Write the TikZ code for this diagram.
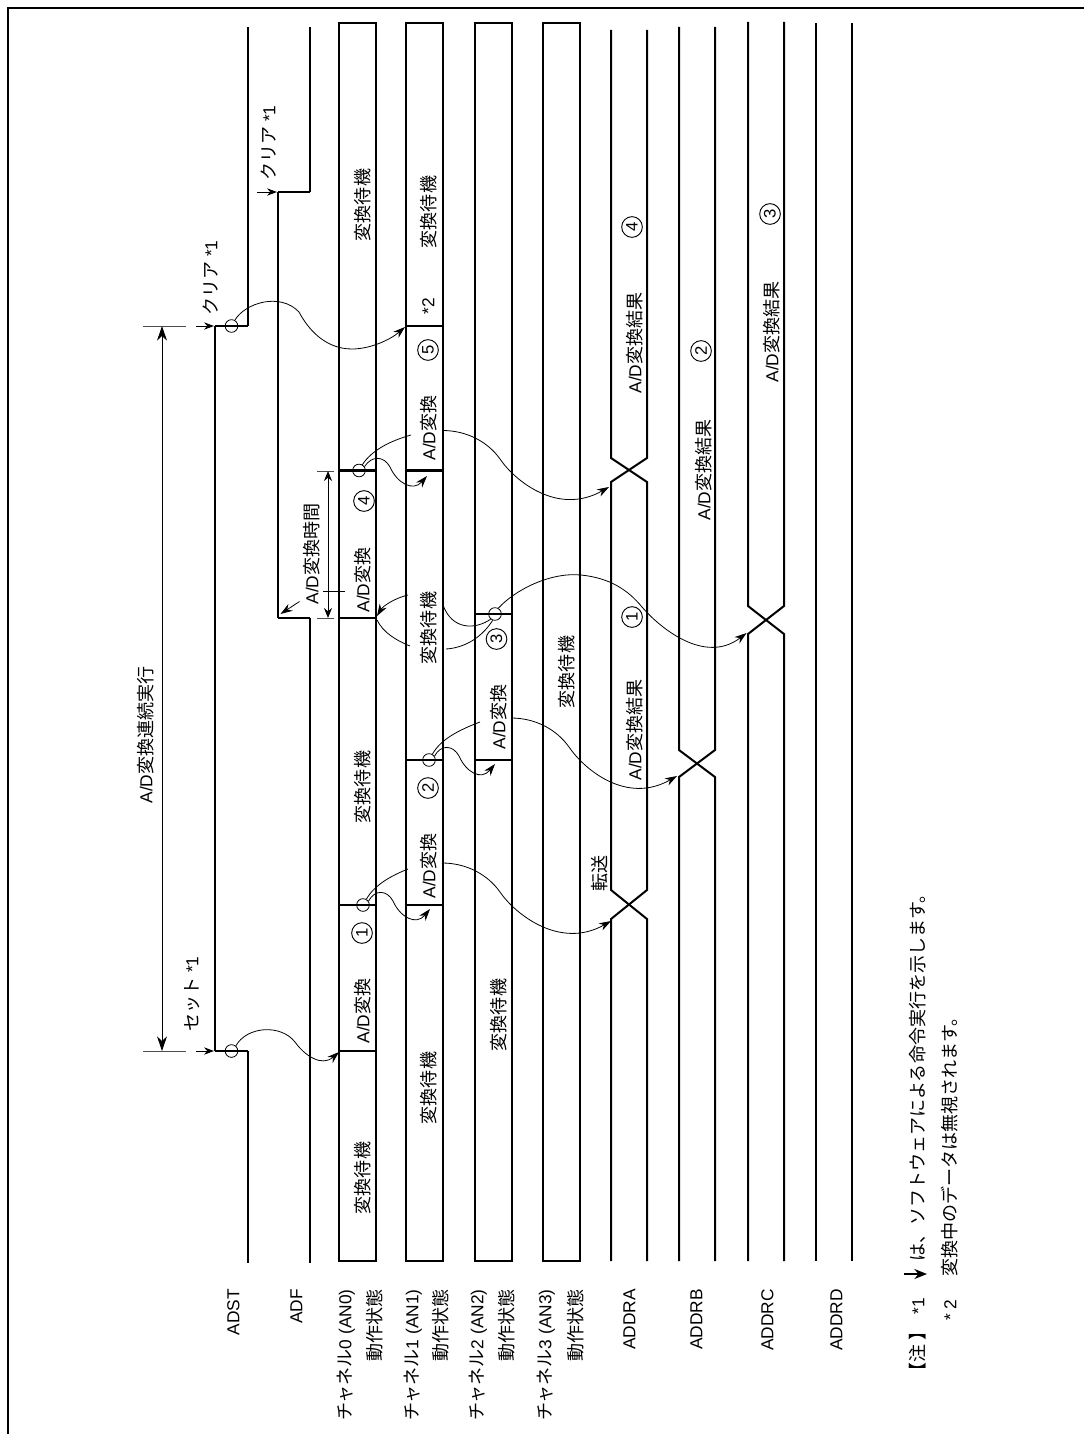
\documentclass[tikz,border=0pt]{standalone}
\usepackage{fontspec}
\setmainfont{Liberation Sans}
\newfontfamily\jpfont[Scale=1.04]{Noto Sans CJK JP}
\newcommand{\jp}[1]{{\jpfont #1}}
\usetikzlibrary{arrows.meta}

\begin{document}
\begin{tikzpicture}[
    x=0.75pt,
    y=-0.75pt,
    every node/.style={font=\fontsize{13}{15}\selectfont},
    txt/.style={rotate=90, inner sep=0pt, text height=10pt, text depth=2pt},
    rowname/.style={txt, anchor=east},
    notetext/.style={txt, anchor=west},
    num/.style={rotate=90, circle, draw, line width=0.7pt, inner sep=0pt,
        minimum size=15.5pt, font=\fontsize{12.5}{14}\selectfont},
    ring/.style={circle, draw, line width=0.6pt, inner sep=0pt, minimum size=9.5pt},
    frame/.style={line width=1.6pt},
    wave/.style={line width=1.5pt},
    edge/.style={line width=1.8pt},
    tick/.style={line width=0.7pt, black!70},
    longdim/.style={line width=0.7pt, {Stealth[length=11pt,width=7.5pt]}-{Stealth[length=11pt,width=7.5pt]}},
    shortdim/.style={line width=0.7pt, {Stealth[length=7.5pt,width=6pt]}-{Stealth[length=7.5pt,width=6pt]}},
    curve/.style={line width=0.6pt},
    arrow/.style={curve, -{Stealth[length=9pt,width=6pt]}},
    small arrow/.style={line width=0.7pt, -{Stealth[length=7.5pt,width=5.5pt]}},
    key arrow/.style={line width=1pt, -{Stealth[length=9.5pt,width=7.5pt]}}
]
\useasboundingbox (0,0) rectangle (1084,1434);

% Frame
\draw [frame] (8,1434) -- (8,8) -- (1084,8);

% Waveforms
\draw [wave] (248,27) -- (248,326) (215,1051) -- (215,326) (248,1051) -- (248,1263);
\draw [edge] (248,326) -- (215,326) (215,1051) -- (248,1051);
\draw [wave] (310,27) -- (310,192) (278,192) -- (278,618) (310,618) -- (310,1263);
\draw [edge] (310,192) -- (278,192) (278,618) -- (310,618);

\foreach \xa/\xb in {339/376, 406/443, 474.5/511.5, 543/579.5}
    \draw [wave] (\xa,23) rectangle (\xb,1261);

\foreach \y in {1051, 905, 618, 470.5}
    \draw [edge] (339,\y) -- (376,\y);
\foreach \y in {905, 760, 470.5, 326}
    \draw [edge] (406,\y) -- (443,\y);
\foreach \y in {760, 614}
    \draw [edge] (474.5,\y) -- (511.5,\y);

\draw [wave] (611,30) -- (611,458) -- (647,482) -- (647,890) -- (611,919) -- (611,1261);
\draw [wave] (647,30) -- (647,458) -- (611,482) -- (611,890) -- (647,919) -- (647,1261);
\draw [wave] (679,27) -- (679,750) -- (715,777) -- (715,1261);
\draw [wave] (715,27) -- (715,750) -- (679,777) -- (679,1261);
\draw [wave] (748,22) -- (748,606) -- (784,634) -- (784,1261);
\draw [wave] (784,22) -- (784,606) -- (748,634) -- (748,1261);
\draw [wave] (816,23) -- (816,1261);
\draw [wave] (852,23) -- (852,1261);

% Row names
\node (adst) [rowname] at (234,1289) {ADST};
\node (adf) [rowname] at (297,1289) {ADF};
\node (ch0) [rowname] at (346,1289) {\jp{チャネル}0 (AN0)};
\node (st0) [rowname] at (376,1289) {\jp{動作状態}};
\node (ch1) [rowname] at (413,1289) {\jp{チャネル}1 (AN1)};
\node (st1) [rowname] at (442,1289) {\jp{動作状態}};
\node (ch2) [rowname] at (478,1289) {\jp{チャネル}2 (AN2)};
\node (st2) [rowname] at (508,1289) {\jp{動作状態}};
\node (ch3) [rowname] at (546,1289) {\jp{チャネル}3 (AN3)};
\node (st3) [rowname] at (577,1289) {\jp{動作状態}};
\node (addra) [rowname] at (630,1289) {ADDRA};
\node (addrb) [rowname] at (697,1289) {ADDRB};
\node (addrc) [rowname] at (768,1289) {ADDRC};
\node (addrd) [rowname] at (837,1289) {ADDRD};

% Labels
\node (run) [txt] at (147,735) {A/D\jp{変換連続実行}};
\node (set) [txt] at (193,994) {\jp{セット} *1};
\node (clear0) [txt] at (212,278) {\jp{クリア} *1};
\node (clear1) [txt] at (270,143) {\jp{クリア} *1};
\node (time) [txt] at (313,554) {A/D\jp{変換時間}};

\node (w00) [txt] at (364,1178) {\jp{変換待機}};
\node (c00) [txt] at (364,1011) {A/D\jp{変換}};
\node (w01) [txt] at (364,787) {\jp{変換待機}};
\node (c01) [txt] at (364,580) {A/D\jp{変換}};
\node (w02) [txt] at (364,205) {\jp{変換待機}};
\node (n1) [num] at (362,933) {1};
\node (n4) [num] at (364,501) {4};

\node (w10) [txt] at (430,1088) {\jp{変換待機}};
\node (c10) [txt] at (430,866) {A/D\jp{変換}};
\node (w11) [txt] at (430,628) {\jp{変換待機}};
\node (c11) [txt] at (430,428) {A/D\jp{変換}};
\node (star2) [txt] at (429,306) {*2};
\node (w12) [txt] at (430,212) {\jp{変換待機}};
\node (n2) [num] at (428,788) {2};
\node (n5) [num] at (428,350) {5};

\node (w20) [txt] at (500,1015) {\jp{変換待機}};
\node (c20) [txt] at (500,717) {A/D\jp{変換}};
\node (n3) [num] at (496.5,639) {3};

\node (w30) [txt] at (568,672) {\jp{変換待機}};

\node (move) [txt] at (601,873) {\jp{転送}};
\node (ra0) [txt] at (636,730) {A/D\jp{変換結果}};
\node (ra1) [txt] at (636,343) {A/D\jp{変換結果}};
\node (na1) [num] at (632,617) {1};
\node (na4) [num] at (632,227) {4};
\node (rb0) [txt] at (705,470) {A/D\jp{変換結果}};
\node (nb2) [num] at (701,351) {2};
\node (rc0) [txt] at (773,332) {A/D\jp{変換結果}};
\node (nc3) [num] at (770,214) {3};

% Notes
\node (note) [txt] at (919,1351) {\jp{【注 】}};
\node (star1) [txt] at (919,1306) {*1};
\node (noteone) [notetext] at (919,1262) {\jp{は、ソフトウェアによる命令実行を示します。}};
\node (startwo) [txt] at (951,1310) {* 2};
\node (notetwo) [notetext] at (951,1277) {\jp{変換中のデータは無視されます。}};

% Rings
\node (rset) [ring] at (231.5,1051) {};
\node (r905) [ring] at (363,905) {};
\node (r760) [ring] at (429,760) {};
\node (r614) [ring] at (495,614) {};
\node (r470) [ring] at (359,470.5) {};
\node (rclr) [ring] at (231.5,326) {};

% Connector ends
\coordinate (start0) at (339,1052);
\coordinate (conv1a) at (408,869);
\coordinate (conv1b) at (430,909);
\coordinate (conv1c) at (442,863);
\coordinate (tipa0) at (611,921);
\coordinate (conv2a) at (480,722);
\coordinate (conv2b) at (495,764);
\coordinate (conv2c) at (511,718);
\coordinate (tipb0) at (677,776);
\coordinate (tipc0) at (746.5,633);
\coordinate (waitin) at (443,605);
\coordinate (waitlow) at (446,649);
\coordinate (waitout) at (408,595);
\coordinate (waitback) at (410,646);
\coordinate (start3) at (377,616);
\coordinate (start3b) at (377,620);
\coordinate (conv3a) at (411,435);
\coordinate (conv3b) at (427,476);
\coordinate (conv3c) at (442.5,430.5);
\coordinate (tipa1) at (609,487);
\coordinate (stop1) at (405,327);
\coordinate (adfnote) at (299.5,601.5);
\coordinate (adftip) at (280.5,614);
\coordinate (setfrom) at (196,1051);
\coordinate (setto) at (214,1051);
\coordinate (clrfrom) at (196,326);
\coordinate (clrto) at (214,326);
\coordinate (adffrom) at (257,192);
\coordinate (adfto) at (277,192);
\coordinate (keyfrom) at (904,1274);
\coordinate (keyto) at (927,1274);

% Dimension lines
\coordinate (runA) at (162,326);
\coordinate (runB) at (162,1051);
\coordinate (timeA) at (328,471);
\coordinate (timeB) at (328,618);
\coordinate (tickA) at (143,326);
\coordinate (tickB) at (186,326);
\coordinate (tickC) at (143,1051);
\coordinate (tickD) at (186,1051);
\coordinate (tickE) at (317,471);
\coordinate (tickF) at (334,471);
\coordinate (tickG) at (317,618);
\coordinate (tickH) at (334,618);
\coordinate (tickI) at (323,591);
\coordinate (tickJ) at (345,591);
\draw [tick] (tickA) -- (tickB);
\draw [tick] (tickC) -- (tickD);
\draw [tick] (tickE) -- (tickF);
\draw [tick] (tickG) -- (tickH);
\draw [line width=0.6pt] (tickI) -- (tickJ);
\draw [longdim] (runA) -- (runB);
\draw [shortdim] (timeA) -- (timeB);

% Arrows
\draw [small arrow] (setfrom) -- (setto);
\draw [small arrow] (clrfrom) -- (clrto);
\draw [small arrow] (adffrom) -- (adfto);
\draw [arrow] (adfnote) -- (adftip);
\draw [key arrow] (keyfrom) -- (keyto);

\draw [arrow] (rset.50) .. controls (247,1026) and (281,1024) .. (295,1042)
    .. controls (305,1056) and (322,1067) .. (start0);

\draw [curve] (r905.60) .. controls (375,884) and (393,875) .. (conv1a);
\draw [arrow] (r905.35) .. controls (375,889) and (387,890) .. (393,901)
    .. controls (400,917) and (416,926) .. (conv1b);
\draw [arrow] (conv1c) .. controls (467,863) and (488,875) .. (500,892)
    .. controls (515,914) and (560,950) .. (tipa0);

\draw [curve] (r760.60) .. controls (441,739) and (459,730) .. (conv2a);
\draw [arrow] (r760.35) .. controls (441,744) and (453,745) .. (459,756)
    .. controls (466,772) and (481,781) .. (conv2b);
\draw [arrow] (conv2c) .. controls (536,718) and (557,730) .. (569,747)
    .. controls (584,769) and (626,805) .. (tipb0);

\draw [arrow] (r614.60) .. controls (515,590) and (550,572) .. (581,575)
    .. controls (610,578) and (628,590) .. (642,607)
    .. controls (660,628) and (705,665) .. (tipc0);
\draw [curve] (r614.230) .. controls (475,630) and (452,630) .. (waitin);
\draw [curve] (r614.250) .. controls (480,640) and (462,648) .. (waitlow);
\draw [arrow] (waitout) .. controls (395,598) and (383,606) .. (start3);
\draw [curve] (waitback) .. controls (395,640) and (383,632) .. (start3b);

\draw [curve] (r470.60) .. controls (372,450) and (390,441) .. (conv3a);
\draw [arrow] (r470.35) .. controls (372,455) and (384,456) .. (390,467)
    .. controls (397,483) and (413,492) .. (conv3b);
\draw [arrow] (conv3c) .. controls (467,430.5) and (488,442) .. (500,459)
    .. controls (515,481) and (558,516) .. (tipa1);

\draw [arrow] (rclr.60) .. controls (245,303) and (280,292) .. (299,312)
    .. controls (308,329) and (325,349) .. (352,349)
    .. controls (370,349) and (390,340) .. (stop1);

\end{tikzpicture}
\end{document}
